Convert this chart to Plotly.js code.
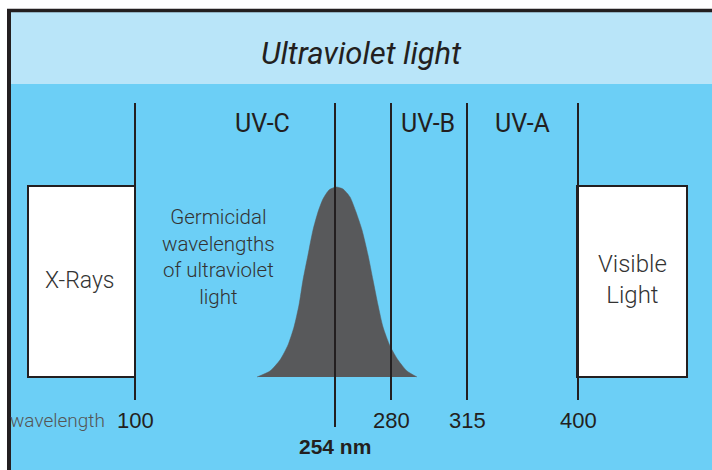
<!DOCTYPE html>
<html>
<head>
<meta charset="utf-8">
<script src="https://cdn.plot.ly/plotly-3.0.1.min.js"></script>
<style>html,body{margin:0;padding:0;background:#fff;}#chart{width:712px;height:470px;}</style>
</head>
<body>
<div id="chart"></div>
<script>
// ---- data ----
var wavelengths = [100, 280, 315, 400];
var peakWavelength = 254;
var bandLabels = ["UV-C", "UV-B", "UV-A"];
var title = "Ultraviolet light";
var sideBoxes = [["X-Rays"], ["Visible", "Light"]];
var noteLines = ["Germicidal", "wavelengths", "of ultraviolet", "light"];
// germicidal curve (diagram units: x across, y down)
var curveX = [257,270,280,288,294,299,303,308,313,318,323,329,336,343,350,356,362,368,373,378,383,390,398,407,417];
var curveY = [377,371,360,345,327,305,280,255,230,212,199,190,187,189,197,212,230,255,280,305,327,346,360,371,377];

// ---- layout constants (diagram units) ----
var tickX = {100: 135, 254: 335, 280: 391, 315: 467, 400: 578};
var bandX = [262, 428, 522];
var ink = "#231F20";
var futura = "Roboto, 'Noto Sans', sans-serif";
var helv = "'Liberation Sans', Arial, sans-serif";

var shapes = [
  {type:"rect", layer:"below", x0:11, x1:712, y0:12, y1:84, fillcolor:"#B9E5F9", line:{width:0}},
  {type:"rect", layer:"below", x0:11, x1:712, y0:84, y1:470, fillcolor:"#6CCFF6", line:{width:0}},
  {type:"line", x0:7, x1:712, y0:10.5, y1:10.5, line:{color:ink, width:3.5}},
  {type:"line", x0:9, x1:9, y0:9, y1:470, line:{color:ink, width:4}},
  {type:"rect", x0:28, x1:135, y0:186, y1:377, fillcolor:"#FFFFFF", line:{color:ink, width:2}},
  {type:"rect", x0:577, x1:687, y0:186, y1:377, fillcolor:"#FFFFFF", line:{color:ink, width:2}}
];
var allW = wavelengths.concat([peakWavelength]);
allW.forEach(function(w){
  shapes.push({type:"line", x0:tickX[w], x1:tickX[w], y0:103, y1:(w===peakWavelength?427:400),
    line:{color:ink, width:2}});
});

var ann = [];
ann.push({x:361, y:53, text:"<i>"+title+"</i>", showarrow:false, xanchor:"center", yanchor:"middle",
  font:{family:futura, size:31, color:ink}});
bandLabels.forEach(function(t,i){
  ann.push({x:bandX[i], y:123, text:t, showarrow:false, xanchor:"center", yanchor:"middle",
    font:{family:futura, size:25, color:ink}});
});
ann.push({x:80, y:280, text:sideBoxes[0][0], showarrow:false, xanchor:"center", yanchor:"middle",
  font:{family:futura, size:23, color:"#333333", weight:300}});
ann.push({x:632, y:279, text:sideBoxes[1].join("<br>"), showarrow:false, xanchor:"center", yanchor:"middle",
  align:"center", font:{family:futura, size:24, color:"#333333", weight:300}});
ann.push({x:218, y:257, text:noteLines.join("<br>"), showarrow:false, xanchor:"center", yanchor:"middle",
  align:"center", font:{family:futura, size:20.5, color:"#333333", weight:300}});
ann.push({x:107, y:420, text:"wavelength", showarrow:false, xanchor:"right", yanchor:"middle",
  font:{family:futura, size:19, color:"#555555", weight:300}});
wavelengths.forEach(function(w){
  ann.push({x:tickX[w], y:420, text:String(w), showarrow:false, xanchor:"center", yanchor:"middle",
    font:{family:helv, size:22, color:ink}});
});
ann.push({x:tickX[peakWavelength], y:446, text:"<b>"+peakWavelength+" nm</b>", showarrow:false,
  xanchor:"center", yanchor:"middle", font:{family:helv, size:21, color:ink}});

var traces = [{
  type:"scatter", mode:"lines", x:curveX, y:curveY, fill:"toself", fillcolor:"#58595B",
  line:{color:"#58595B", width:0.5, shape:"spline", smoothing:0.6}, hoverinfo:"skip"
}];

var layout = {
  width:712, height:470, margin:{l:0,r:0,t:0,b:0},
  paper_bgcolor:"#FFFFFF", plot_bgcolor:"#FFFFFF",
  xaxis:{range:[0,712], visible:false, fixedrange:true},
  yaxis:{range:[470,0], visible:false, fixedrange:true},
  showlegend:false, shapes:shapes, annotations:ann
};
Plotly.newPlot("chart", traces, layout, {displayModeBar:false, staticPlot:true});
</script>
</body>
</html>
